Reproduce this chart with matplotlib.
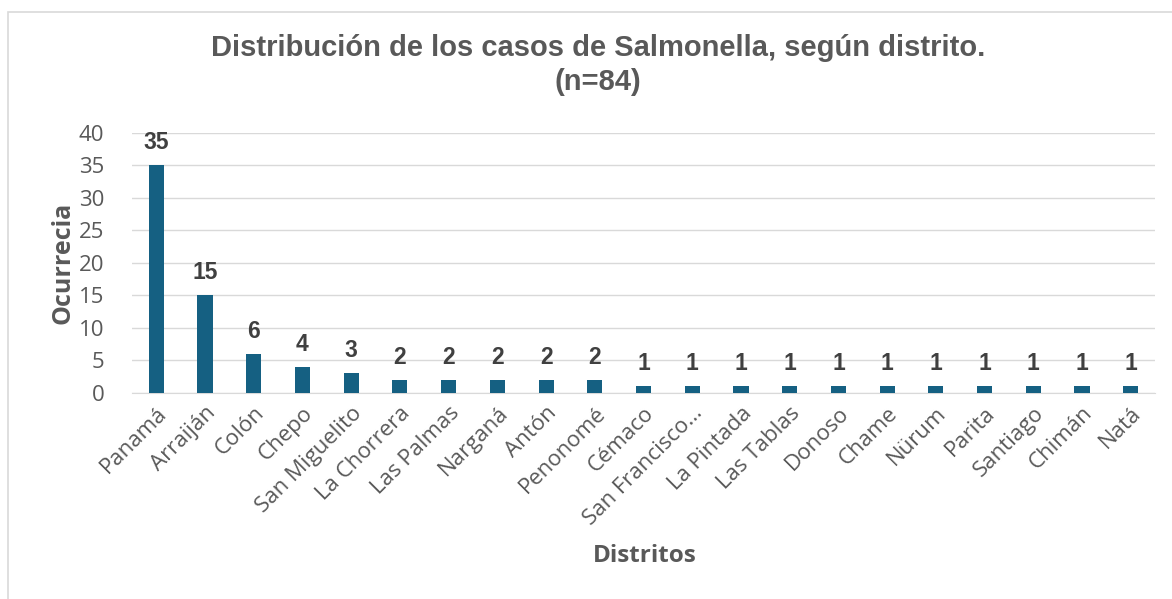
import matplotlib.pyplot as plt
from matplotlib.patches import Rectangle

# Datos
distritos = ['Panamá', 'Arraiján', 'Colón', 'Chepo', 'San Miguelito', 'La Chorrera',
             'Las Palmas', 'Narganá', 'Antón', 'Penonomé', 'Cémaco', 'San Francisco…',
             'La Pintada', 'Las Tablas', 'Donoso', 'Chame', 'Nürum', 'Parita',
             'Santiago', 'Chimán', 'Natá']
casos = [35, 15, 6, 4, 3, 2, 2, 2, 2, 2, 1, 1, 1, 1, 1, 1, 1, 1, 1, 1, 1]
yticks = [0, 5, 10, 15, 20, 25, 30, 35, 40]

gris = '#595959'
azul = '#156082'

fig = plt.figure(figsize=(11.72, 5.99), dpi=100)
fig.patches.append(Rectangle((8 / 1172, -0.01), 1.02, 1 - 12 / 599 + 0.01,
                             transform=fig.transFigure, fill=False,
                             edgecolor='#d9d9d9', linewidth=1.2))

ax = fig.add_axes([0.1126, 0.344, 0.873, 0.434])
x = range(len(distritos))
ax.bar(x, casos, width=0.31, color=azul, zorder=3)

for i, v in zip(x, casos):
    ax.text(i, v + 1.7, str(v), ha='center', va='bottom', fontsize=16.5,
            fontweight='bold', color='#404040', family='Liberation Sans')

ax.set_ylim(0, 40)
ax.set_xlim(-0.5, len(distritos) - 0.5)
ax.set_yticks(yticks)
ax.set_xticks(list(x))
ax.set_xticklabels(distritos, rotation=45, ha='right', va='top',
                   rotation_mode='anchor', fontsize=16, color=gris, family='Open Sans')
ax.tick_params(axis='y', labelsize=16, colors=gris, length=0, pad=20)
ax.tick_params(axis='x', length=0, pad=7)
for lab in ax.get_yticklabels():
    lab.set_family('Open Sans')
ax.grid(axis='y', color='#d9d9d9', linewidth=1, zorder=0)
for s in ['top', 'right', 'left']:
    ax.spines[s].set_visible(False)
ax.spines['bottom'].set_color('#d9d9d9')

ax.set_ylabel('Ocurrecia', fontsize=18, fontweight='bold', color=gris,
              family='Open Sans', labelpad=2)
fig.text(0.55, 0.072, 'Distritos', ha='center', va='center', fontsize=17.5,
         fontweight='bold', color=gris, family='Open Sans')

fig.text(0.51, 0.92, 'Distribución de los casos de Salmonella, según distrito.',
         ha='center', va='center', fontsize=21, fontweight='bold', color=gris,
         family='Liberation Sans')
fig.text(0.51, 0.863, '(n=84)', ha='center', va='center', fontsize=21,
         fontweight='bold', color=gris, family='Liberation Sans')

fig.savefig('out.png', dpi=100)
